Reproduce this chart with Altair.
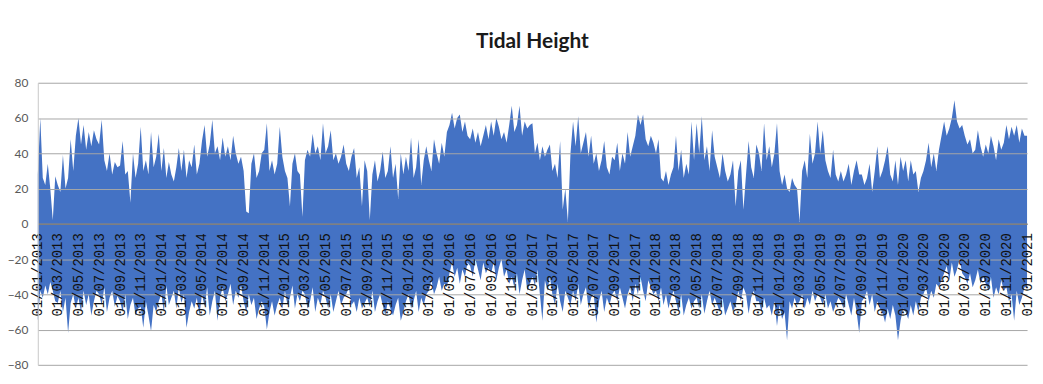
import altair as alt
import pandas as pd

# Tick labels (every two months)
tick_dates = [f"{y}-{m:02d}-01" for y in range(2013, 2021) for m in (1, 3, 5, 7, 9, 11)] + ["2021-01-01"]
y_ticks = [-80, -60, -40, -20, 0, 20, 40, 60, 80]

# Tidal height envelope: 8 readings per two-month interval
high_2013 = [28, 60, 26, 22, 34, 20, 2, 27, 22, 18, 39, 20, 26, 48, 30, 50,
             60, 45, 56, 42, 52, 44, 53, 48, 45, 59, 36, 30, 40, 28, 35, 32,
             33, 47, 28, 30, 12, 40, 26, 34, 55, 30, 36, 28, 52, 32, 38, 51]
low_2013 = [-55, -38, -42, -35, -40, -33, -38, -44, -45, -38, -50, -42, -62, -45, -40, -48,
            -42, -50, -38, -46, -40, -52, -44, -38, -40, -46, -36, -50, -42, -38, -47, -41,
            -44, -50, -40, -54, -46, -42, -52, -48, -47, -59, -44, -52, -61, -46, -50, -44]
high_2014 = [30, 43, 26, 35, 28, 24, 32, 43, 30, 42, 26, 36, 32, 45, 28, 34,
             47, 56, 38, 45, 59, 40, 44, 36, 49, 38, 44, 36, 50, 40, 34, 38,
             30, 7, 6, 34, 40, 26, 30, 40, 42, 57, 30, 36, 28, 34, 55, 38]
low_2014 = [-40, -50, -35, -46, -42, -38, -48, -36, -45, -40, -59, -50, -44, -48, -42, -52,
            -40, -47, -36, -52, -44, -38, -55, -42, -36, -44, -40, -34, -46, -38, -42, -35,
            -44, -50, -40, -46, -42, -54, -48, -44, -47, -60, -50, -44, -52, -46, -42, -48]
high_2015 = [30, 26, 10, 34, 40, 30, 28, 4, 36, 42, 38, 51, 40, 44, 36, 57,
             40, 44, 53, 36, 40, 34, 38, 45, 34, 30, 38, 43, 26, 32, 10, 36,
             30, 2, 28, 36, 24, 30, 41, 26, 30, 44, 26, 34, 14, 40, 28, 38]
low_2015 = [-38, -46, -42, -35, -48, -40, -44, -38, -40, -48, -44, -36, -50, -42, -46, -38,
            -42, -48, -40, -50, -44, -38, -46, -42, -40, -36, -46, -44, -50, -42, -48, -45,
            -42, -47, -38, -50, -44, -40, -46, -52, -44, -48, -52, -46, -42, -55, -50, -44]
high_2016 = [30, 49, 26, 32, 48, 22, 36, 44, 36, 30, 48, 40, 34, 46, 38, 52,
             56, 63, 54, 60, 62, 52, 58, 50, 48, 54, 46, 52, 44, 50, 56, 48,
             58, 50, 60, 55, 48, 52, 46, 56, 67, 52, 56, 67, 50, 58, 54, 56]
low_2016 = [-40, -48, -44, -38, -50, -42, -46, -40, -38, -32, -40, -36, -30, -38, -34, -36,
            -28, -22, -30, -25, -34, -26, -30, -22, -24, -30, -20, -26, -32, -22, -28, -25,
            -28, -22, -32, -25, -20, -30, -26, -34, -30, -36, -28, -40, -32, -26, -38, -34]
high_2017 = [57, 40, 46, 36, 44, 38, 42, 45, 30, 34, 26, 47, 8, 20, 1, 40,
             58, 44, 61, 40, 46, 52, 38, 50, 34, 40, 30, 36, 47, 32, 28, 38,
             36, 46, 30, 40, 34, 52, 38, 44, 50, 62, 56, 62, 48, 44, 50, 46]
low_2017 = [-30, -35, -26, -40, -55, -32, -38, -30, -40, -46, -34, -44, -50, -38, -42, -46,
            -38, -44, -34, -46, -40, -36, -48, -42, -40, -56, -44, -38, -50, -42, -46, -40,
            -38, -44, -36, -42, -48, -40, -36, -44, -34, -40, -30, -38, -44, -32, -36, -40]
high_2018 = [40, 48, 26, 24, 30, 22, 28, 32, 50, 30, 42, 26, 34, 28, 58, 36,
             57, 40, 61, 36, 44, 30, 53, 38, 32, 26, 40, 30, 24, 28, 36, 10,
             30, 36, 8, 28, 47, 32, 26, 45, 40, 30, 57, 36, 44, 32, 40, 57]
low_2018 = [-38, -44, -36, -46, -40, -48, -42, -38, -44, -50, -40, -52, -46, -42, -48, -44,
            -42, -48, -40, -51, -44, -38, -46, -42, -46, -50, -42, -52, -48, -44, -50, -46,
            -38, -44, -36, -40, -51, -42, -38, -44, -44, -50, -42, -48, -46, -52, -44, -58]
high_2019 = [30, 22, 28, 20, 18, 26, 22, 20, 1, 30, 36, 26, 51, 34, 40, 58,
             40, 53, 36, 30, 26, 42, 28, 24, 30, 24, 28, 34, 22, 30, 36, 28,
             28, 22, 26, 34, 18, 30, 44, 26, 30, 36, 44, 28, 24, 36, 22, 38]
low_2019 = [-46, -54, -50, -66, -44, -48, -42, -46, -44, -40, -48, -42, -46, -38, -44, -40,
            -42, -46, -40, -48, -44, -50, -46, -42, -44, -48, -40, -46, -52, -42, -50, -62,
            -44, -42, -38, -46, -40, -50, -44, -48, -50, -56, -48, -54, -46, -52, -66, -55]
high_2020 = [30, 36, 24, 36, 28, 30, 18, 26, 30, 36, 46, 32, 40, 30, 42, 50,
             58, 50, 54, 60, 70, 58, 54, 56, 50, 45, 48, 40, 42, 53, 44, 38,
             45, 40, 50, 44, 36, 48, 42, 46, 56, 48, 55, 50, 56, 46, 54, 50]
low_2020 = [-48, -50, -54, -46, -52, -44, -50, -42, -40, -36, -44, -38, -42, -34, -36, -32,
            -28, -24, -32, -22, -30, -26, -20, -28, -30, -34, -28, -36, -32, -26, -34, -30,
            -34, -38, -30, -42, -36, -40, -32, -38, -36, -44, -40, -55, -38, -46, -42, -36]

highs = high_2013 + high_2014 + high_2015 + high_2016 + high_2017 + high_2018 + high_2019 + high_2020
lows = low_2013 + low_2014 + low_2015 + low_2016 + low_2017 + low_2018 + low_2019 + low_2020


def ms(d):
    return int(pd.Timestamp(d, tz="UTC").value // 10**6)


tick_ms = [ms(d) for d in tick_dates]
rows = []
per = 8
for k in range(len(tick_ms) - 1):
    s, e = tick_ms[k], tick_ms[k + 1]
    for j in range(per):
        i = k * per + j
        rows.append({"t": s + (e - s) * j // per, "high": highs[i], "low": lows[i]})
rows.append({"t": tick_ms[-1], "high": highs[-1], "low": lows[-1]})
df = pd.DataFrame(rows)

W, H = 996, 284
x_axis = alt.Axis(
    values=tick_ms, labelExpr="utcFormat(datum.value, '%d/%m/%Y')", labelAngle=270,
    title=None, ticks=False, grid=False, domain=True, domainColor="#7f7f7f", domainWidth=1.5,
    offset=-H / 2, labelPadding=9, labelFont="Liberation Mono", labelFontSize=14,
    labelColor="#111111", labelOverlap=False, labelFlush=False, zindex=1,
)
y_axis = alt.Axis(
    values=y_ticks, title=None, ticks=False, domain=True, domainColor="#c8c8c8",
    grid=True, gridColor="#a6a6a6", gridWidth=1, labelPadding=10,
    labelFont="Lato", labelFontSize=12, labelColor="#595959", zindex=1,
)

area = alt.Chart(df).mark_area(interpolate="linear", color="#4472C4").encode(
    x=alt.X("t:T", scale=alt.Scale(type="utc", domain=[tick_ms[0], tick_ms[-1]], nice=False), axis=x_axis),
    y=alt.Y("low:Q", scale=alt.Scale(domain=[-80, 80], nice=False), axis=y_axis),
    y2="high:Q",
)

frame = alt.Chart(df).mark_rule(color="#d0d0d0", strokeWidth=1.5).encode(
    x=alt.value(-31), y=alt.value(-74), y2=alt.value(H + 10)
)

chart = alt.layer(area, frame).properties(
    width=W, height=H,
    padding={"left": 30, "top": 74, "right": 8, "bottom": 10},
    autosize=alt.AutoSizeParams(type="none"),
    title=alt.TitleParams(
        "Tidal Height", font="Lato", fontSize=21, fontWeight="bold",
        color="#1a1a1a", anchor="middle", frame="group", offset=0, dy=44,
    ),
).configure_view(strokeWidth=0)

chart.save("out.html", embed_options={"renderer": "svg", "actions": False})
